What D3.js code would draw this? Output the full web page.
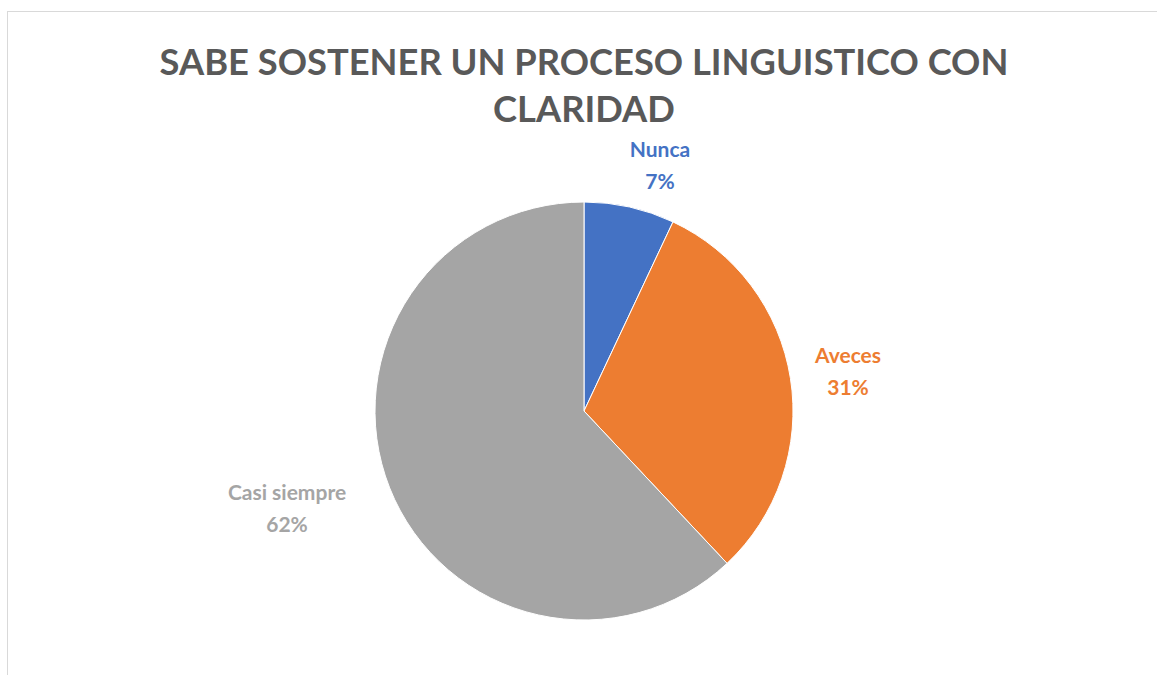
<!DOCTYPE html>
<html>
<head>
<meta charset="utf-8">
<script src="https://cdn.jsdelivr.net/npm/d3@7"></script>
<style>
  body { margin: 0; background: #fff; }
  text { font-family: Lato, "Open Sans", sans-serif; font-weight: bold; }
</style>
</head>
<body>
<div id="chart"></div>
<script>
// chart data
const categories = ["Nunca", "Aveces", "Casi siempre"]
const values = [7, 31, 62]
const colors = ["#4472c4", "#ed7d31", "#a5a5a5"]
const titleLines = ["SABE SOSTENER UN PROCESO LINGUISTICO CON", "CLARIDAD"]

const width = 1157, height = 675
const cx = 584, cy = 411, radius = 209

let svg = d3.select("#chart")
  .append("svg")
  .attr("width", width)
  .attr("height", height)

// chart border
svg.append("rect").attr("x", 7.5).attr("y", 11.5).attr("width", 1160).attr("height", 680)
  .style("fill", "none").style("stroke", "#d9d9d9").style("stroke-width", 1)

// title
svg.append("text")
  .attr("x", 584).attr("y", 75)
  .attr("text-anchor", "middle")
  .style("font-size", "36.3px")
  .style("fill", "#595959")
  .selectAll("tspan")
  .data(titleLines)
  .join("tspan")
  .attr("x", 584)
  .attr("dy", (d, i) => i === 0 ? 0 : 47)
  .text(d => d)

let pie = d3.pie().sort(null).value(d => d)
let arcs = pie(values)
let arc = d3.arc().innerRadius(0).outerRadius(radius)

let g = svg.append("g").attr("transform", `translate(${cx},${cy})`)

g.selectAll("path")
  .data(arcs)
  .join("path")
  .attr("d", arc)
  .style("fill", (d, i) => colors[i])
  .style("stroke", "#fff")
  .style("stroke-width", 1)

// data labels placed outside the pie
const labelPos = [[76, -254], [264, -48], [-297, 89]]
let total = d3.sum(values)

arcs.forEach((d, i) => {
  let t = g.append("text")
    .attr("text-anchor", "middle")
    .style("font-size", "21px")
    .style("fill", colors[i])
  t.append("tspan").attr("x", labelPos[i][0]).attr("y", labelPos[i][1]).text(categories[i])
  t.append("tspan").attr("x", labelPos[i][0]).attr("y", labelPos[i][1] + 32)
    .text(Math.round(values[i] / total * 100) + "%")
})
</script>
</body>
</html>
